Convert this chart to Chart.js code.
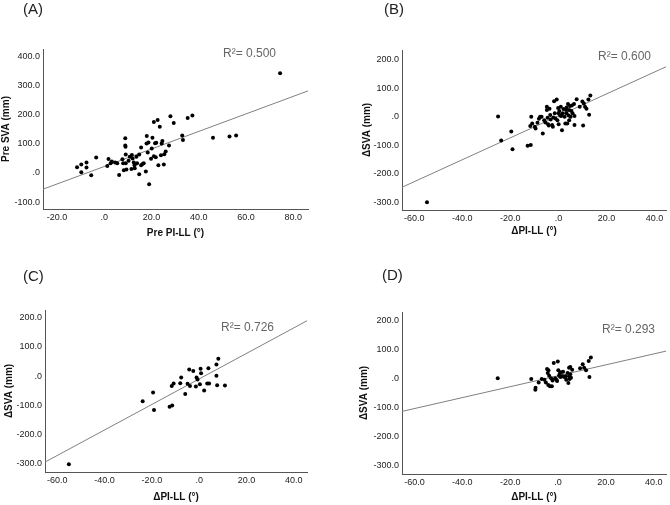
<!DOCTYPE html>
<html>
<head>
<meta charset="utf-8">
<script src="https://cdn.jsdelivr.net/npm/chart.js@4/dist/chart.umd.min.js"></script>
<style>
  body { margin: 0; background: #fff; width: 670px; height: 505px; position: relative; overflow: hidden; }
  canvas { position: absolute; }
  .lbl { position: absolute; font-family: "Liberation Sans", Arial, sans-serif; white-space: nowrap; }
  .panel { font-size: 15px; line-height: 15px; color: #222; }
  .r2 { font-size: 12px; line-height: 12px; color: #666; }
</style>
</head>
<body>
<canvas id="chartA"></canvas>
<canvas id="chartB"></canvas>
<canvas id="chartC"></canvas>
<canvas id="chartD"></canvas>

<div class="lbl panel" style="left:23px;top:1px">(A)</div>
<div class="lbl panel" style="left:384px;top:1px">(B)</div>
<div class="lbl panel" style="left:23px;top:268px">(C)</div>
<div class="lbl panel" style="left:382px;top:267px">(D)</div>

<div class="lbl r2" style="left:223px;top:47px">R²= 0.500</div>
<div class="lbl r2" style="left:598px;top:50px">R²= 0.600</div>
<div class="lbl r2" style="left:221px;top:321px">R²= 0.726</div>
<div class="lbl r2" style="left:602px;top:323px">R²= 0.293</div>

<script>
// Panel A: Pre PI-LL vs Pre SVA
const aX = [-11.5,-9.7,-9.7,-7.5,-7.5,-5.5,-3.4,1.3,1.8,2.7,3.2,4.6,5.5,6.3,7.7,8.0,8.3,8.9,8.9,9.0,9.1,9.1,9.4,10.3,10.8,11.5,11.7,12.0,12.5,12.8,12.9,13.6,13.9,14.8,14.8,15.6,15.6,16.2,16.7,17.6,17.9,18.0,18.4,18.7,19.0,19.8,20.1,20.4,21.0,21.0,21.5,21.8,22.0,22.6,22.9,23.5,24.0,24.3,24.6,25.2,25.4,26.0,27.4,28.0,29.4,33.0,33.3,35.3,37.3,46.0,53.0,55.8,74.4];
const aY = [19.5,28.6,2.3,35.5,18.3,-8,52.7,24,48,33,39,35.5,33,-7,47,33,9,119,94,90,63,33,11.5,42,56,13.7,62,50,35.5,26,16,56,33,-4.6,63,87,26,31,33,4.6,101,127,70,105,-39,49,84,121,57,175,102,54,104,182,26,159,61,101,110,29,64,74,94,195,172,129,113,189,197,121,125,129,343];
const aFitX = [-25.9, 86.2];
const aFitY = [-56, 282];

// Panel B: delta PI-LL vs delta SVA
const bX = [-54.7,-25.1,-23.8,-19.6,-19.1,-12.8,-11.5,-11.7,-11.3,-10.9,-9.8,-9.5,-8.7,-8.1,-7.6,-7.0,-6.5,-5.9,-5.4,-4.8,-4.8,-4.5,-4.3,-4.0,-3.7,-3.4,-3.2,-2.6,-2.3,-2.1,-1.8,-1.5,-1.2,-0.7,-0.4,-0.1,0.1,0.1,0.4,0.7,1.0,1.2,1.5,1.8,2.1,2.6,2.9,3.2,3.4,3.4,3.7,4.0,4.3,4.5,4.5,4.8,5.1,5.4,5.6,5.9,6.5,6.7,6.7,7.6,8.9,10.0,10.3,10.6,11.1,11.7,12.5,12.8,13.3];
const bY = [-301,1,-83.5,-52,-114,-102,-99,-32,0,-23.5,-35,-41,-21,-7,0,0,-59,-12,-20,35,23.5,-3.5,-26,-30.5,28,6,-9.4,-29,-35,-2.4,55,12,-6,61,-12,30.6,12,-26,20,4.7,35,2.4,-47,12,27,0,-23.5,23.5,33,12,-23.5,45,4.7,23.5,-12,37.6,0,20,40,12,45,2.4,-29,62,35,54,-30.6,47,35,28,61,7,75];
const bFitX = [-65.1, 44.8];
const bFitY = [-248, 176];

// Panel C
const cX = [-55.1,-23.9,-19.5,-19.1,-12.5,-11.4,-11.6,-10.8,-8.0,-7.6,-5.9,-4.9,-4.2,-3.9,-2.5,-1.4,-1.1,-0.7,0.3,0.6,0.8,2.1,3.4,3.9,4.2,7.3,7.3,7.6,8.1,10.9];
const cY = [-302,-86,-56,-116,-105,-101,-34,-25,-24,-4.6,-61,-26,23,-34,18,-35.5,-4.6,-11.5,-27.5,25,10,-49,-25,27.5,-25,40,1,-31,60,-32];
const cFitX = [-65.2, 45.6];
const cFitY = [-295, 190];

// Panel D
const dX = [-25.2,-11.2,-9.5,-9.4,-8.1,-6.8,-5.7,-5.1,-4.6,-4.3,-4.1,-4.0,-3.7,-3.4,-2.9,-2.6,-2.3,-1.8,-1.2,-0.7,-0.4,-0.1,0.1,0.4,0.7,1.0,1.2,1.8,2.1,2.6,3.2,3.4,4.0,4.3,4.6,4.6,4.8,5.1,5.1,5.4,5.9,9.2,10.3,10.9,11.7,12.8,13.1,13.7];
const dY = [1,-1,-38,-31,-13,-1,-3.5,-13,33.5,19.6,-22,29,10,-26.5,1,-26.5,-6,54,1,-3.5,-8,59,29,10,17,6,22,8,24,6,8,-3.5,19.6,-15,38,8,-1,40,15,3.5,31,36,50,38,29,61,6,73];
const dFitX = [-65.2, 45.1];
const dFitY = [-113, 95];

// tick labels
const aXTicks = [-20, 0, 20, 40, 60, 80];
const aYTicks = [-100, 0, 100, 200, 300, 400];
const dXTicks = [-60, -40, -20, 0, 20, 40];
const dYTicks = [-300, -200, -100, 0, 100, 200];

const FONT = '"Liberation Sans", Arial, sans-serif';

function fmt(v) {
    return v === 0 ? '.0' : v.toFixed(1);
}

function toPoints(xs, ys) {
    return xs.map((x, i) => ({ x: x, y: ys[i] }));
}

// Function to build one scatter panel
function makePanel(id, box, cfg) {
    const canvas = document.getElementById(id);
    canvas.width = box.w;
    canvas.height = box.h;
    canvas.style.left = box.left + 'px';
    canvas.style.top = box.top + 'px';

    new Chart(canvas, {
        type: 'scatter',
        data: {
            datasets: [{
                data: toPoints(cfg.xs, cfg.ys),
                backgroundColor: '#000',
                borderWidth: 0,
                pointRadius: 2,
                order: 0
            }, {
                data: toPoints(cfg.fitX, cfg.fitY),
                showLine: true,
                borderColor: '#808080',
                borderWidth: 1,
                pointRadius: 0,
                order: 1
            }]
        },
        options: {
            responsive: false,
            animation: false,
            devicePixelRatio: 1,
            layout: { padding: { top: box.padTop, right: box.padRight, left: 0, bottom: 0 } },
            plugins: { legend: { display: false }, tooltip: { enabled: false } },
            scales: {
                x: {
                    type: 'linear',
                    min: cfg.xMin,
                    max: cfg.xMax,
                    afterBuildTicks: s => { s.ticks = cfg.xTicks.map(v => ({ value: v })); },
                    afterFit: s => { s.height = box.xh; },
                    grid: { display: false, drawTicks: false },
                    border: { color: '#555', width: 1 },
                    ticks: { font: { size: 9, family: FONT }, color: '#222', padding: 3, maxRotation: 0, autoSkip: false, callback: fmt },
                    title: { display: true, text: cfg.xTitle, font: { size: 10, weight: 'bold', family: FONT }, color: '#111', padding: 0 }
                },
                y: {
                    type: 'linear',
                    min: cfg.yMin,
                    max: cfg.yMax,
                    afterBuildTicks: s => { s.ticks = cfg.yTicks.map(v => ({ value: v })); },
                    afterFit: s => { s.width = box.yw; },
                    grid: { display: false, drawTicks: false },
                    border: { color: '#555', width: 1 },
                    ticks: { font: { size: 9, family: FONT }, color: '#222', padding: 3, autoSkip: false, callback: fmt },
                    title: { display: true, text: cfg.yTitle, font: { size: 10, weight: 'bold', family: FONT }, color: '#111', padding: 0 }
                }
            }
        }
    });
}

makePanel('chartA', { left: 0, top: 0, w: 312, h: 239, padTop: 49, padRight: 3, yw: 43, xh: 30 }, {
    xs: aX, ys: aY, fitX: aFitX, fitY: aFitY,
    xMin: -25.9, xMax: 86.2, yMin: -124, yMax: 426,
    xTicks: aXTicks, yTicks: aYTicks,
    xTitle: 'Pre PI-LL (°)', yTitle: 'Pre SVA (mm)'
});

makePanel('chartB', { left: 361, top: 0, w: 309, h: 237, padTop: 50, padRight: 2, yw: 41, xh: 27 }, {
    xs: bX, ys: bY, fitX: bFitX, fitY: bFitY,
    xMin: -65.1, xMax: 44.8, yMin: -328, yMax: 235,
    xTicks: dXTicks, yTicks: dYTicks,
    xTitle: 'ΔPI-LL (°)', yTitle: 'ΔSVA (mm)'
});

makePanel('chartC', { left: 3, top: 250, w: 308, h: 253, padTop: 60, padRight: 3, yw: 42, xh: 31 }, {
    xs: cX, ys: cY, fitX: cFitX, fitY: cFitY,
    xMin: -65.2, xMax: 45.6, yMin: -329, yMax: 227,
    xTicks: dXTicks, yTicks: dYTicks,
    xTitle: 'ΔPI-LL (°)', yTitle: 'ΔSVA (mm)'
});

makePanel('chartD', { left: 358, top: 250, w: 312, h: 253, padTop: 62, padRight: 2, yw: 44, xh: 29 }, {
    xs: dX, ys: dY, fitX: dFitX, fitY: dFitY,
    xMin: -65.2, xMax: 45.1, yMin: -329, yMax: 230,
    xTicks: dXTicks, yTicks: dYTicks,
    xTitle: 'ΔPI-LL (°)', yTitle: 'ΔSVA (mm)'
});
</script>
</body>
</html>
